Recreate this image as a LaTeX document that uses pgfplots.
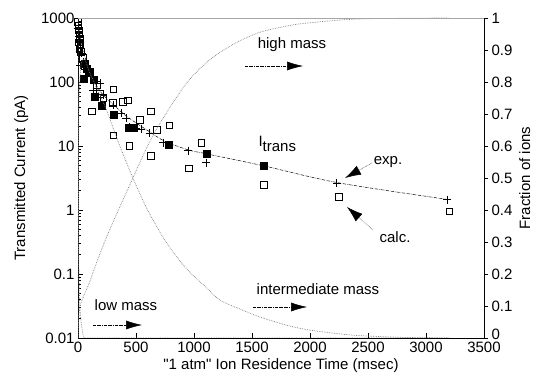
\documentclass[border=0pt]{standalone}
\usepackage{fontspec}
\setmainfont{Liberation Sans}
\usepackage{pgfplots}
\pgfplotsset{compat=1.18}
\usetikzlibrary{arrows.meta}
\newcommand{\fs}{\fontsize{15}{17}\selectfont}
\begin{document}
\begin{tikzpicture}
\pgfplotsset{every axis/.append style={font=\fs}}
\begin{axis}[name=ax, scale only axis, width=406pt, height=320pt,
  xmin=0, xmax=3500, ymode=log, ymin=0.01, ymax=1000,
  axis x line*=bottom, axis y line*=left, axis line style={-, line width=0.8pt},
  xtick={0,500,1000,1500,2000,2500,3000,3500},
  ytick={0.01,0.1,1,10,100,1000}, yticklabels={0.01,0.1,1,10,100,1000},
  tick align=inside, major tick length=5pt, minor tick length=3pt,
  tick style={black, line width=0.6pt},
  /pgf/number format/1000 sep={}, /pgf/number format/assume math mode=true,
  xlabel={\textquotedbl 1 atm\textquotedbl\ Ion Residence Time (msec)},
  ylabel={Transmitted Current (pA)}, ylabel shift=6pt,
  clip=false]
% dash-dot fit line
\addplot[black, densely dashdotted, line width=0.5pt, smooth] coordinates {
(0,900)(20,520)(50,280)(100,150)(150,95)(200,68)(300,45)(400,31)(500,23)(600,17.5)(750,11.8)(950,8.7)(1100,7.6)(1600,4.9)(2250,2.65)(3200,1.45)};
% open squares (calc.)
\addplot[only marks, mark=square, mark size=3.3pt, black, line width=0.5pt] coordinates {
(0,870)(3,760)(6,640)(10,560)(14,470)(5,420)(20,400)(10,330)(25,300)(40,240)(60,175)(103,145)(132,110)(118,35)(160,90)(189,66)(218,56)(304,77)(300,47)(304,14.8)(387,49)(430,52)(441,10)(533,25.5)(625,35)(628,7.1)(677,17.8)(785,21)(957,4.5)(1063,11.3)(1600,2.5)(2250,1.6)(3200,0.95)};
% filled squares
\addplot[only marks, mark=square*, mark size=3.5pt, black] coordinates {
(60,196)(75,160)(89,145)(46,114)(132,108)(146,59)(204,42)(304,30.5)(440,19.5)(480,19)(785,10.4)(1107,7.7)(1600,5.0)};
% plus (exp.)
\addplot[only marks, mark=+, mark size=4pt, black, line width=0.8pt] coordinates {
(0,700)(5,600)(10,520)(15,430)(20,350)(32,281)(46,207)(17,184)(60,160)(80,140)(103,121)(132,75)(161,80)(190,95)(218,63)(304,43.7)(375,32.5)(418,27)(447,20)(504,19)(547,18.5)(619,15.8)(734,11.3)(949,8.4)(1107,5.5)(2231,2.6)(3185,1.45)};
\end{axis}
\begin{axis}[scale only axis, width=406pt, height=320pt,
  xmin=0, xmax=3500, ymin=0, ymax=1,
  axis y line*=right, axis x line=none, axis line style={-, line width=0.8pt},
  ytick={0,0.1,0.2,0.3,0.4,0.5,0.6,0.7,0.8,0.9,1},
  yticklabels={\raisebox{4pt}[\height][0pt]{0},0.1,0.2,0.3,0.4,0.5,0.6,0.7,0.8,0.9,1},
  tick align=outside, major tick length=4pt, tick style={black, line width=0.6pt},
  ylabel={Fraction of ions}]
% low mass
\addplot[gray, densely dotted, line width=0.7pt] coordinates {
(0,1)(3,0.5)(8,0.2)(15,0.1)(30,0.04)(45,0.005)(60,0)(3200,0)};
% intermediate mass
\addplot[gray, densely dotted, line width=0.7pt, smooth] coordinates {
(0,0)(3,0.45)(8,0.72)(15,0.8)(30,0.86)(60,0.87)(100,0.83)(175,0.77)(249,0.71)(350,0.61)(473,0.5)(600,0.4)(748,0.306)(852,0.253)(963,0.206)(1100,0.16)(1221,0.119)(1400,0.09)(1565,0.066)(1800,0.04)(1995,0.025)(2365,0.009)(2800,0.002)(3200,0)};
% high mass
\addplot[gray, densely dotted, line width=0.7pt, smooth] coordinates {
(0,0)(17,0.097)(100,0.175)(175,0.25)(275,0.34)(473,0.5)(600,0.6)(722,0.68)(937,0.797)(1135,0.869)(1350,0.92)(1565,0.955)(1800,0.975)(2000,0.985)(2425,0.997)(3200,1.0)};
\end{axis}
\draw[gray!70, line width=0.7pt] (ax.north west) -- (ax.north east);
\begin{scope}[shift={(ax.south west)}, x=1pt, y=1pt, font=\fs]
\node at (214,293) {high mass};
\draw[densely dashdotted, line width=0.5pt, -{Latex[length=16pt,width=9pt]}] (167,272) -- (225,272);
\node[anchor=base west] at (177,191) {I\raisebox{-5pt}{trans}};
\node at (310,176) {exp.};
\draw[densely dotted, line width=0.5pt, -{Latex[length=16pt,width=10pt]}] (294,175) -- (267,160);
\node at (317,101) {calc.};
\draw[densely dotted, line width=0.5pt, -{Latex[length=16pt,width=10pt]}] (295,108) -- (269,131);
\node at (240,49) {intermediate mass};
\draw[densely dashdotted, line width=0.5pt, -{Latex[length=16pt,width=9pt]}] (175,31) -- (229,31);
\node at (48,33) {low mass};
\draw[densely dashdotted, line width=0.5pt, -{Latex[length=16pt,width=9pt]}] (15,13) -- (64,13);
\end{scope}
\pgfresetboundingbox
\path[use as bounding box] (ax.south west) ++(-78pt,-42pt) rectangle ++(533pt,380pt);
\end{tikzpicture}
\end{document}
